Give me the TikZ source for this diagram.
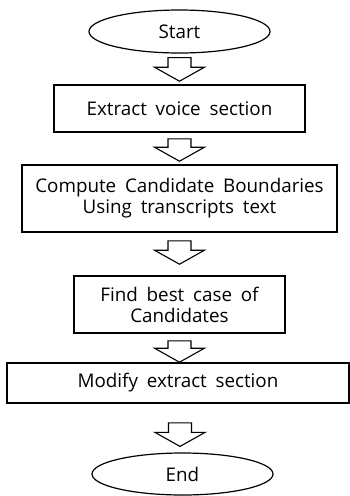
\documentclass[tikz,border=0pt]{standalone}
\usepackage{fontspec}
\setmainfont{Open Sans}[WordSpace=1.8]
\usetikzlibrary{shapes.geometric,calc}

\begin{document}
\begin{tikzpicture}[x=1pt,y=1pt,node distance=80pt]
    \fontsize{18.8pt}{21pt}\selectfont  % 字体大小
    \tikzstyle{format}=[rectangle,draw,line width=1.6pt,fill=white,align=center,inner sep=0pt]  % 处理框
    \tikzstyle{terminal}=[ellipse,draw,line width=1.2pt,minimum width=181pt,minimum height=43pt,inner sep=0pt]  % 起止框
    % 空心箭头: 从起点往下画到终点
    \tikzstyle{hollow}=[draw,line width=1.1pt,fill=white,
        to path={let \p1=(\tikztostart),\p2=(\tikztotarget) in
            (\x1-11.5pt,\y1) -- (\x1+11.5pt,\y1) -- (\x1+11.5pt,\y2+14pt) -- (\x1+25pt,\y2+14pt)
            -- (\x1,\y2) -- (\x1-25pt,\y2+14pt) -- (\x1-11.5pt,\y2+14pt) -- cycle}]

    \useasboundingbox (0,0) rectangle (350,-496);

    % 定义note
    \node[terminal] at (179.5,-31.5) (start){Start};
    \node[format,below of=start,node distance=77pt,minimum width=251pt,minimum height=47pt](extract){Extract voice section};
    \node[format,below of=extract,node distance=90pt,minimum width=315pt,minimum height=67pt](compute){Compute Candidate Boundaries\\Using transcripts text};
    \node[format,below of=compute,node distance=106pt,minimum width=211pt,minimum height=57pt](find){Find best case of\\Candidates};
    \node[format,below of=find,node distance=78.5pt,xshift=-1.5pt,minimum width=342pt,minimum height=40pt](modify){Modify extract section};
    \node[terminal,below of=modify,node distance=91pt,xshift=4.5pt,minimum height=42pt](end){End};

    % 开始画箭头
    \draw[hollow]([yshift=-4pt]start.south) to ([yshift=3pt]extract.north);
    \draw[hollow]([yshift=-6pt]extract.south) to ([yshift=3pt]compute.north);
    \draw[hollow]([yshift=-8pt]compute.south) to ([yshift=11pt]find.north);
    \draw[hollow]([yshift=-7pt]find.south) to (modify.north);
    \draw[hollow]([xshift=2pt,yshift=-19pt]modify.south) to ([yshift=6pt]end.north);
\end{tikzpicture}
\end{document}
